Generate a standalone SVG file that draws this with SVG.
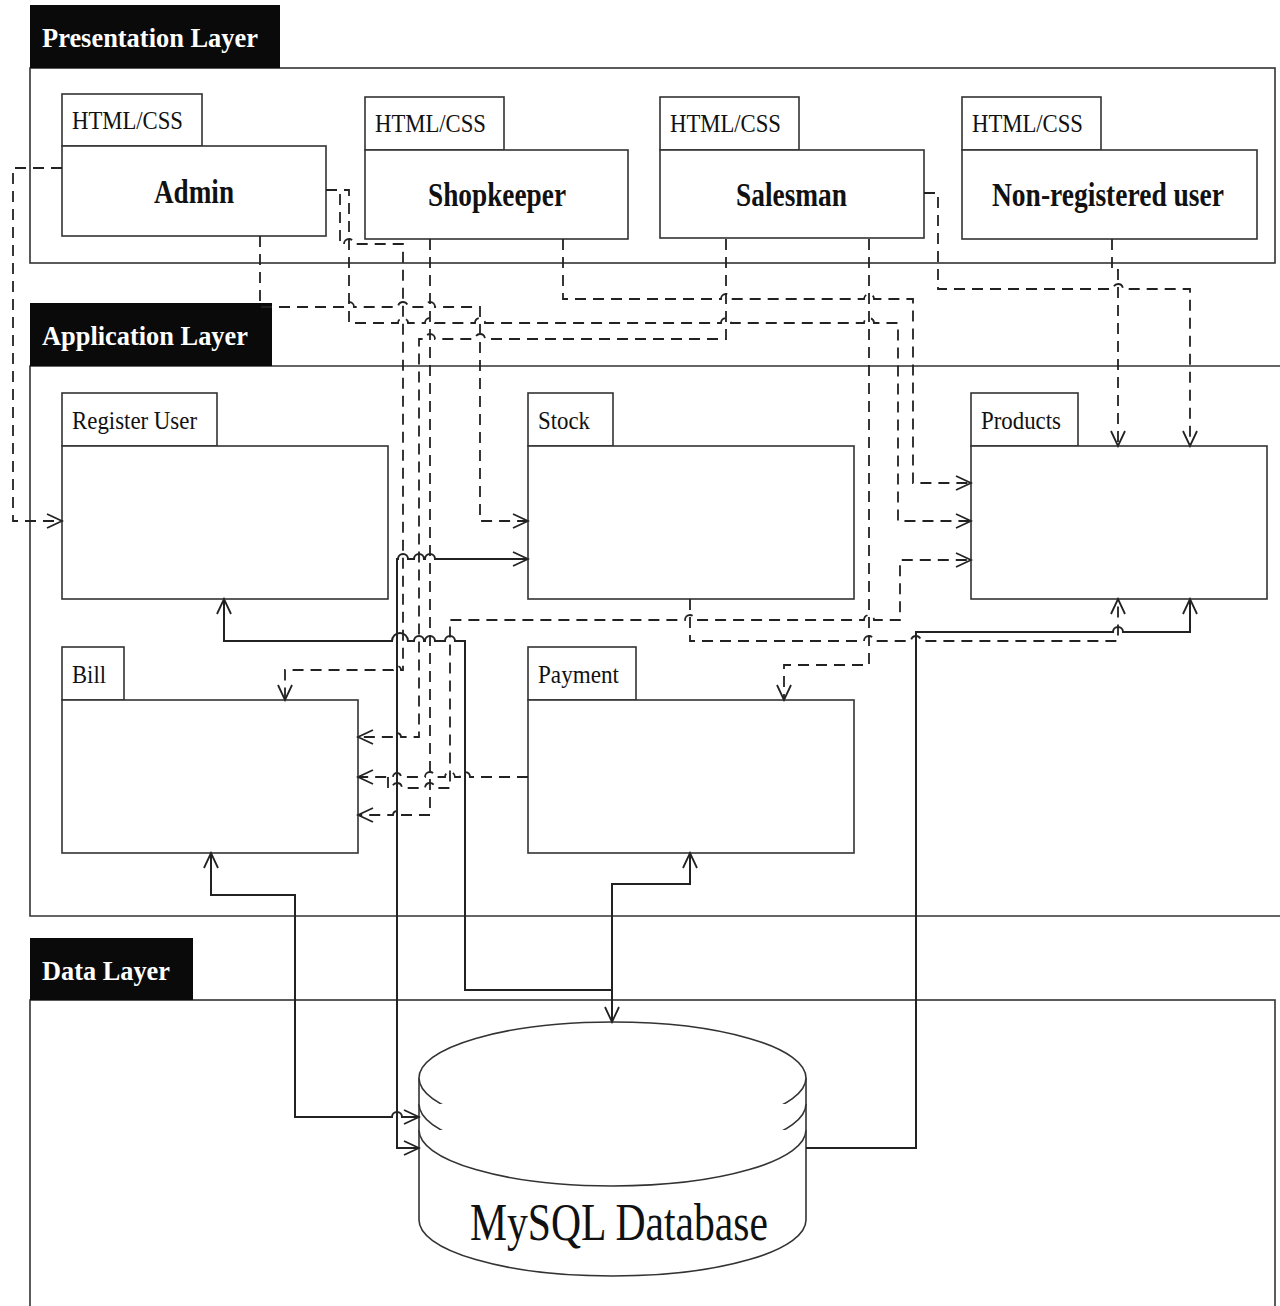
<svg xmlns="http://www.w3.org/2000/svg" width="1280" height="1306" viewBox="0 0 1280 1306">
<style>
.frame{fill:none;stroke:#333;stroke-width:1.6}
.box{fill:#fff;stroke:#333;stroke-width:1.6}
.hdr{fill:#0a0a0a}
.hdrt{font-family:"Liberation Serif",serif;font-weight:bold;font-size:28px;fill:#fff}
.tab{font-family:"Liberation Serif",serif;font-size:25px;fill:#111}
.name{font-family:"Liberation Serif",serif;font-weight:bold;font-size:33px;fill:#111}
.db{font-family:"Liberation Serif",serif;font-size:52px;fill:#111}
.d{fill:none;stroke:#222;stroke-width:1.8;stroke-dasharray:11 7}
.s{fill:none;stroke:#222;stroke-width:2}
.cyl{fill:#fff;stroke:#333;stroke-width:1.6}
</style>
<defs>
<marker id="a" viewBox="-17 -9 19 18" refX="0" refY="0" markerWidth="19" markerHeight="18" markerUnits="userSpaceOnUse" orient="auto-start-reverse">
<path d="M-15,-7 L0,0 L-15,7" fill="none" stroke="#222" stroke-width="1.8" stroke-dasharray="none"/>
</marker>
</defs>
<rect width="1280" height="1306" fill="#fff"/>

<g id="presentation-layer">
<rect class="frame" x="30" y="68" width="1245" height="195"/>
<rect class="hdr" x="30" y="5" width="250" height="63"/>
<text class="hdrt" x="42" y="47" textLength="216" lengthAdjust="spacingAndGlyphs">Presentation Layer</text>
</g>
<g id="application-layer">
<path class="frame" d="M1280,366 H30 V916 H1280"/>
<rect class="hdr" x="30" y="303" width="242" height="63"/>
<text class="hdrt" x="42" y="345" textLength="206" lengthAdjust="spacingAndGlyphs">Application Layer</text>
</g>
<g id="data-layer">
<rect class="frame" x="30" y="1000" width="1245" height="330"/>
<rect class="hdr" x="30" y="938" width="163" height="62"/>
<text class="hdrt" x="42" y="980" textLength="128" lengthAdjust="spacingAndGlyphs">Data Layer</text>
</g>

<g id="admin">
<rect class="box" x="62" y="94" width="140" height="52"/>
<rect class="box" x="62" y="146" width="264" height="90"/>
<text class="tab" x="72" y="129" textLength="111" lengthAdjust="spacingAndGlyphs">HTML/CSS</text>
<text class="name" x="154" y="203" textLength="80" lengthAdjust="spacingAndGlyphs">Admin</text>
</g>
<g id="shopkeeper">
<rect class="box" x="365" y="97" width="139" height="53"/>
<rect class="box" x="365" y="150" width="263" height="89"/>
<text class="tab" x="375" y="132" textLength="111" lengthAdjust="spacingAndGlyphs">HTML/CSS</text>
<text class="name" x="428" y="206" textLength="138" lengthAdjust="spacingAndGlyphs">Shopkeeper</text>
</g>
<g id="salesman">
<rect class="box" x="660" y="97" width="139" height="53"/>
<rect class="box" x="660" y="150" width="264" height="88"/>
<text class="tab" x="670" y="132" textLength="111" lengthAdjust="spacingAndGlyphs">HTML/CSS</text>
<text class="name" x="736" y="206" textLength="111" lengthAdjust="spacingAndGlyphs">Salesman</text>
</g>
<g id="non-registered-user">
<rect class="box" x="962" y="97" width="139" height="53"/>
<rect class="box" x="962" y="150" width="295" height="89"/>
<text class="tab" x="972" y="132" textLength="111" lengthAdjust="spacingAndGlyphs">HTML/CSS</text>
<text class="name" x="992" y="206" textLength="232" lengthAdjust="spacingAndGlyphs">Non-registered user</text>
</g>

<g id="register-user">
<rect class="box" x="62" y="393" width="155" height="53"/>
<rect class="box" x="62" y="446" width="326" height="153"/>
<text class="tab" x="72" y="429" textLength="125" lengthAdjust="spacingAndGlyphs">Register User</text>
</g>
<g id="stock">
<rect class="box" x="528" y="393" width="85" height="53"/>
<rect class="box" x="528" y="446" width="326" height="153"/>
<text class="tab" x="538" y="429" textLength="52" lengthAdjust="spacingAndGlyphs">Stock</text>
</g>
<g id="products">
<rect class="box" x="971" y="393" width="107" height="53"/>
<rect class="box" x="971" y="446" width="296" height="153"/>
<text class="tab" x="981" y="429" textLength="80" lengthAdjust="spacingAndGlyphs">Products</text>
</g>
<g id="bill">
<rect class="box" x="62" y="647" width="62" height="53"/>
<rect class="box" x="62" y="700" width="296" height="153"/>
<text class="tab" x="72" y="683" textLength="34" lengthAdjust="spacingAndGlyphs">Bill</text>
</g>
<g id="payment">
<rect class="box" x="528" y="647" width="108" height="53"/>
<rect class="box" x="528" y="700" width="326" height="153"/>
<text class="tab" x="538" y="683" textLength="81" lengthAdjust="spacingAndGlyphs">Payment</text>
</g>

<g id="mysql-database">
<path class="cyl" d="M419,1078 V1220 A193.5,56 0 0 0 806,1220 V1078"/>
<ellipse class="cyl" cx="612.5" cy="1078" rx="193.5" ry="56"/>
<path class="cyl" fill="none" d="M419,1104 A193.5,56 0 0 0 806,1104"/>
<path class="cyl" fill="none" d="M419,1130 A193.5,56 0 0 0 806,1130"/>
<text class="db" x="470" y="1240" textLength="298" lengthAdjust="spacingAndGlyphs">MySQL Database</text>
</g>

<g id="connectors">
<path class="d" marker-end="url(#a)" d="M62,168 H13 V521 H62"/>
<path class="d" marker-end="url(#a)" d="M260,236 V307 H344 a5,5 0 0 1 10,0 H398 a5,5 0 0 1 10,0 H425 a5,5 0 0 1 10,0 H480 V521 H528"/>
<path class="d" marker-end="url(#a)" d="M326,190 H349 V323 H398 a5,5 0 0 1 10,0 H425 a5,5 0 0 1 10,0 H475 a5,5 0 0 1 10,0 H721 a5,5 0 0 1 10,0 H864 a5,5 0 0 1 10,0 H898 V521 H971"/>
<path class="d" marker-end="url(#a)" d="M326,190 H340 V244 H344 a5,5 0 0 1 10,0 H403 V670 H401 a4,4 0 0 0 -8,0 H285 V700"/>
<path class="d" marker-end="url(#a)" d="M430,239 V815 H401 a4,4 0 0 0 -8,0 H358"/>
<path class="d" marker-end="url(#a)" d="M563,239 V299 H721 a5,5 0 0 1 10,0 H864 a5,5 0 0 1 10,0 H913 V483 H971"/>
<path class="d" marker-end="url(#a)" d="M726,239 V339 H485 a5,5 0 0 0 -10,0 H435 a5,5 0 0 0 -10,0 H419 V737 H401 a4,4 0 0 0 -8,0 H358"/>
<path class="d" marker-end="url(#a)" d="M869,239 V665 H784 V700"/>
<path class="d" marker-end="url(#a)" d="M924,193 H938 V289 H1113 a5,5 0 0 1 10,0 H1190 V446"/>
<path class="d" marker-end="url(#a)" d="M1112,239 V270 H1118 V446"/>
<path class="d" marker-end="url(#a)" d="M690,599 V641 H864 a5,5 0 0 1 10,0 H911 a5,5 0 0 1 10,0 H1118 V599"/>
<path class="d" marker-end="url(#a)" d="M388,777 V788 H392 a5,5 0 0 1 10,0 H425 a5,5 0 0 1 10,0 H450 V620 H685 a5,5 0 0 1 10,0 H864 a5,5 0 0 1 10,0 H900 V560 H971"/>
<path class="d" marker-end="url(#a)" d="M528,777 H470 a5,5 0 0 0 -10,0 H455 a5,5 0 0 0 -10,0 H435 a5,5 0 0 0 -10,0 H401 a4,4 0 0 0 -8,0 H358"/>
<path class="s" marker-start="url(#a)" marker-end="url(#a)" d="M211,853 V895 H295 V1117 H392 a5,5 0 0 1 10,0 H419"/>
<path class="s" marker-start="url(#a)" marker-end="url(#a)" d="M528,559 H435 a5,5 0 0 0 -10,0 H424 a5,5 0 0 0 -10,0 H408 a5,5 0 0 0 -10,0 H397 V1148 H419"/>
<path class="s" marker-start="url(#a)" marker-end="url(#a)" d="M224,599 V641 H392 a8,8 0 0 1 16,0 H414 a5,5 0 0 1 10,0 H425 a5,5 0 0 1 10,0 H445 a5,5 0 0 1 10,0 H465 V990 H612 V1022"/>
<path class="s" marker-start="url(#a)" d="M690,853 V884 H612 V990"/>
<path class="s" marker-end="url(#a)" d="M806,1148 H916 V632 H1113 a5,5 0 0 1 10,0 H1190 V599"/>
</g>
</svg>
